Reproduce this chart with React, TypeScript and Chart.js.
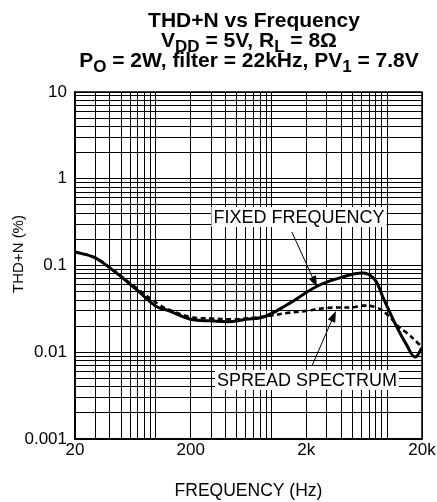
import React, { useEffect, useRef } from 'react';
import { Chart, registerables } from 'chart.js';

Chart.register(...registerables);

const FONT = '"Liberation Sans", Arial, Helvetica, sans-serif';

// Fixed frequency (solid)
const fixedFreq = [20, 29, 40, 69, 100, 130, 200, 300, 460, 600, 850, 1350, 2500, 3900, 6200, 7800, 9200, 12000, 14800, 17400, 20000];
const fixedThd = [0.143, 0.125, 0.094, 0.052, 0.034, 0.030, 0.024, 0.023, 0.0226, 0.024, 0.0255, 0.035, 0.058, 0.072, 0.082, 0.069, 0.043, 0.020, 0.012, 0.0088, 0.0112];

// Spread spectrum (dashed)
const spreadFreq = [20, 29, 40, 69, 108, 130, 200, 300, 460, 700, 1000, 1360, 2000, 3000, 5000, 6200, 8150, 10100, 12900, 14800, 18400, 20000];
const spreadThd = [0.143, 0.125, 0.095, 0.054, 0.035, 0.031, 0.0255, 0.0245, 0.024, 0.025, 0.0265, 0.0283, 0.030, 0.0324, 0.033, 0.0345, 0.0327, 0.0269, 0.019, 0.0167, 0.0128, 0.0115];

// Axis ticks
const xTickValues = [20, 200, 2000, 20000];
const xTickLabels = ['20', '200', '2k', '20k'];
const yTickValues = [0.001, 0.01, 0.1, 1, 10];
const yTickLabels = ['0.001', '0.01', '0.1', '1', '10'];
const xDecades = [10, 100, 1000, 10000];
const yDecades = [0.001, 0.01, 0.1, 1];
const gridMultipliers = [1, 2, 3, 4, 5, 6, 7, 8, 9, 10];

// Annotations (data coordinates)
const annotations = [
  { text: 'FIXED FREQUENCY', textAt: [1726, 0.362], tail: [1500, 0.243], tip: [2470, 0.0565] },
  { text: 'SPREAD SPECTRUM', textAt: [2024, 0.00479], tail: [2235, 0.00695], tip: [3604, 0.0299] },
];

const titleLines: [string, boolean][][] = [
  [['THD+N vs Frequency', false]],
  [['V', false], ['DD', true], [' = 5V, R', false], ['L', true], [' = 8\u03A9', false]],
  [['P', false], ['O', true], [' = 2W, filter = 22kHz, PV', false], ['1', true], [' = 7.8V', false]],
];

function buildGrid(decades: number[], min: number, max: number) {
  const out: number[] = [];
  decades.forEach((d) => {
    gridMultipliers.forEach((m) => {
      const v = parseFloat((d * m).toPrecision(6));
      if (v >= min * 0.9999 && v <= max * 1.0001 && !out.includes(v)) out.push(v);
    });
  });
  return out.sort((a, b) => a - b);
}

function labelFor(values: number[], labels: string[], v: number) {
  for (let i = 0; i < values.length; i++) {
    if (Math.abs(values[i] - v) / values[i] < 1e-6) return labels[i];
  }
  return '';
}

const overlayPlugin = {
  id: 'overlay',
  afterDatasetsDraw(chart: any) {
    const { ctx, chartArea, scales } = chart;
    const xs = scales.x;
    const ys = scales.y;
    ctx.save();
    // frame
    ctx.strokeStyle = '#000';
    ctx.lineWidth = 1.5;
    ctx.strokeRect(chartArea.left, chartArea.top, chartArea.right - chartArea.left, chartArea.bottom - chartArea.top);

    // annotations
    annotations.forEach((a) => {
      ctx.font = `18px ${FONT}`;
      const w = ctx.measureText(a.text).width;
      const cx = xs.getPixelForValue(a.textAt[0]);
      const cy = ys.getPixelForValue(a.textAt[1]);
      ctx.fillStyle = '#fff';
      ctx.fillRect(cx - w / 2 - 2, cy - 10, w + 4, 20);
      ctx.fillStyle = '#000';
      ctx.textAlign = 'center';
      ctx.textBaseline = 'middle';
      ctx.fillText(a.text, cx, cy + 1);
      const x1 = xs.getPixelForValue(a.tail[0]);
      const y1 = ys.getPixelForValue(a.tail[1]);
      const x2 = xs.getPixelForValue(a.tip[0]);
      const y2 = ys.getPixelForValue(a.tip[1]);
      const ang = Math.atan2(y2 - y1, x2 - x1);
      const L = 11;
      const W = 4;
      ctx.strokeStyle = '#000';
      ctx.lineWidth = 1;
      ctx.beginPath();
      ctx.moveTo(x1, y1);
      ctx.lineTo(x2 - L * Math.cos(ang), y2 - L * Math.sin(ang));
      ctx.stroke();
      ctx.beginPath();
      ctx.moveTo(x2, y2);
      ctx.lineTo(x2 - L * Math.cos(ang) + W * Math.sin(ang), y2 - L * Math.sin(ang) - W * Math.cos(ang));
      ctx.lineTo(x2 - L * Math.cos(ang) - W * Math.sin(ang), y2 - L * Math.sin(ang) + W * Math.cos(ang));
      ctx.closePath();
      ctx.fill();
    });

    // title
    const mainFont = `bold 21px ${FONT}`;
    const subFont = `bold 17px ${FONT}`;
    const centers = [254, 249, 249];
    const baselines = [27, 47, 67];
    ctx.textAlign = 'left';
    ctx.textBaseline = 'alphabetic';
    ctx.fillStyle = '#000';
    titleLines.forEach((parts, i) => {
      let total = 0;
      parts.forEach(([t, sub]) => {
        ctx.font = sub ? subFont : mainFont;
        total += ctx.measureText(t).width;
      });
      let x = centers[i] - total / 2;
      parts.forEach(([t, sub]) => {
        ctx.font = sub ? subFont : mainFont;
        ctx.fillText(t, x, baselines[i] + (sub ? 5 : 0));
        x += ctx.measureText(t).width;
      });
    });

    // axis titles
    ctx.font = `17.5px ${FONT}`;
    ctx.textAlign = 'center';
    ctx.fillText('FREQUENCY (Hz)', (chartArea.left + chartArea.right) / 2, 496);
    ctx.save();
    ctx.translate(23, 254);
    ctx.rotate(-Math.PI / 2);
    ctx.font = `15px ${FONT}`;
    ctx.fillText('THD+N (%)', 0, 0);
    ctx.restore();
    ctx.restore();
  },
};

export default function App() {
  const ref = useRef<HTMLCanvasElement | null>(null);
  useEffect(() => {
    if (!ref.current) return;
    const xGrid = buildGrid(xDecades, 20, 20000);
    const yGrid = buildGrid(yDecades, 0.001, 10);
    const chart = new Chart(ref.current, {
      type: 'line',
      data: {
        datasets: [
          {
            label: 'Spread Spectrum',
            data: spreadFreq.map((f, i) => ({ x: f, y: spreadThd[i] })),
            borderColor: '#000',
            borderWidth: 2.6,
            borderDash: [5, 3.5],
            pointRadius: 0,
            tension: 0.4,
            fill: false,
          },
          {
            label: 'Fixed Frequency',
            data: fixedFreq.map((f, i) => ({ x: f, y: fixedThd[i] })),
            borderColor: '#000',
            borderWidth: 3,
            pointRadius: 0,
            tension: 0.4,
            fill: false,
          },
        ],
      },
      options: {
        animation: false,
        responsive: true,
        maintainAspectRatio: false,
        layout: { padding: { top: 92, right: 15, left: 0, bottom: 0 } },
        plugins: { legend: { display: false }, tooltip: { enabled: false }, title: { display: false } },
        scales: {
          x: {
            type: 'logarithmic',
            min: 20,
            max: 20000,
            afterBuildTicks: (s: any) => {
              s.ticks = xGrid.map((v) => ({ value: v }));
            },
            afterFit: (s: any) => {
              s.height = 63;
            },
            ticks: {
              autoSkip: false,
              maxRotation: 0,
              minRotation: 0,
              padding: 1,
              color: '#000',
              font: { size: 17, family: FONT },
              callback: (v: any) => labelFor(xTickValues, xTickLabels, Number(v)),
            },
            grid: { color: '#000', lineWidth: 1, drawTicks: false },
            border: { color: '#000', width: 1.5 },
          },
          y: {
            type: 'logarithmic',
            min: 0.001,
            max: 10,
            afterBuildTicks: (s: any) => {
              s.ticks = yGrid.map((v) => ({ value: v }));
            },
            afterFit: (s: any) => {
              s.width = 75;
            },
            ticks: {
              autoSkip: false,
              padding: 8,
              color: '#000',
              font: { size: 17, family: FONT },
              callback: (v: any) => labelFor(yTickValues, yTickLabels, Number(v)),
            },
            grid: { color: '#000', lineWidth: 1, drawTicks: false },
            border: { color: '#000', width: 1.5 },
          },
        },
      },
      plugins: [overlayPlugin],
    } as any);
    return () => chart.destroy();
  }, []);
  return (
    <div style={{ position: 'fixed', left: 0, top: 0, width: 437, height: 502, background: '#fff' }}>
      <canvas ref={ref} />
    </div>
  );
}
